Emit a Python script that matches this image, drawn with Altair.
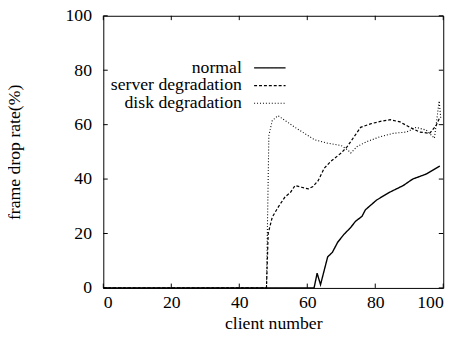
import altair as alt
import pandas as pd

series = ["normal", "server degradation", "disk degradation"]
tick_values = [0, 20, 40, 60, 80, 100]

normal_x = [0, 62, 62.9, 63.9, 66, 67.4, 68.9, 70.8, 72.7, 74.2, 76.1, 77.1, 80.4, 84.3, 88.2, 91, 94.9, 99]
normal_y = [0, 0, 5.4, 1.2, 11.4, 13.1, 16.7, 19.7, 22.1, 24.5, 26.3, 28.7, 32.3, 35.2, 37.6, 40, 41.8, 44.8]

server_x = [0, 48, 48.5, 49.7, 51.6, 53.5, 55, 56.4, 58.3, 60.3, 61.7, 63.2, 65, 67, 70, 71.8, 73.8, 75.7,
            78.6, 81.5, 84.4, 87.3, 90.2, 93, 96, 97.9, 99]
server_y = [0, 0, 20, 26, 30, 33.5, 35, 37.6, 37, 36.4, 37.3, 39.4, 44, 46.6, 49.6, 52, 55.6, 59,
            60.3, 61.2, 61.8, 61, 59, 57.3, 56.8, 59.7, 62.7]

disk_x = [0, 48, 48.7, 49.7, 51.4, 53.5, 56.4, 59.3, 62.2, 66, 70, 71.8, 72.8, 74.7, 77.6, 81.5, 85.3,
          89.2, 92, 95, 97.4, 98.8, 99.3]
disk_y = [0, 0, 56, 61.5, 63.3, 61.5, 59, 56.7, 54.4, 53.2, 52.3, 50.8, 49.6, 52, 53.8, 55.6, 56.8,
          57.3, 59, 58, 55, 68.7, 62]

rows = []
for name, xs, ys in [(series[0], normal_x, normal_y), (series[1], server_x, server_y), (series[2], disk_x, disk_y)]:
    for i, (a, b) in enumerate(zip(xs, ys)):
        rows.append({"client": a, "rate": b, "series": name, "order": i})
df = pd.DataFrame(rows)
tick_df = pd.DataFrame({"t": tick_values})

FONT = "Liberation Serif, Times New Roman, serif"
FS = 18
xscale = alt.Scale(domain=[0, 100], nice=False)
yscale = alt.Scale(domain=[0, 100], nice=False)
xaxis = alt.Axis(values=tick_values, title="client number", labelPadding=6, titlePadding=3)
yaxis = alt.Axis(values=tick_values, title="frame drop rate(%)", labelPadding=12,
                 titleX=-81, titleY=138.5)

lines = alt.Chart(df).mark_line(color="black").encode(
    x=alt.X("client:Q", scale=xscale, axis=xaxis),
    y=alt.Y("rate:Q", scale=yscale, axis=yaxis),
    strokeDash=alt.StrokeDash(
        "series:N",
        scale=alt.Scale(domain=series, range=[[1, 0], [3, 2], [1, 2]]),
        legend=alt.Legend(
            title=None, orient="none", legendX=160.5, legendY=44, padding=0,
            symbolType="M-3.2,0H3.2", symbolSize=100, symbolStrokeColor="black",
            symbolStrokeWidth=1, labelAlign="right",
            labelOffset={"expr": "-37.5"},
            rowPadding=0, labelFont=FONT, labelFontSize=FS,
            labelColor="black", labelLimit=300,
        ),
    ),
    strokeWidth=alt.StrokeWidth(
        "series:N", scale=alt.Scale(domain=series, range=[1.4, 1.1, 1.0]), legend=None
    ),
    order="order:Q",
)

def tick_layer(xenc, yenc, x2=None, y2=None):
    enc = {"x": xenc, "y": yenc}
    if x2 is not None:
        enc["x2"] = x2
    if y2 is not None:
        enc["y2"] = y2
    return alt.Chart(tick_df).mark_rule(color="black", strokeWidth=1).encode(**enc)

bottom = tick_layer(alt.X("t:Q", scale=xscale, axis=xaxis), alt.datum(0), y2=alt.datum(1.6))
top = tick_layer(alt.X("t:Q", scale=xscale, axis=xaxis), alt.datum(100), y2=alt.datum(98.4))
left = tick_layer(alt.datum(0), alt.Y("t:Q", scale=yscale, axis=yaxis), x2=alt.datum(1.3))
right = tick_layer(alt.datum(100), alt.Y("t:Q", scale=yscale, axis=yaxis), x2=alt.datum(98.7))

chart = alt.layer(lines, bottom, top, left, right).properties(
    width=346, height=277,
    autosize=alt.AutoSizeParams(type="none"),
    padding={"left": 97, "top": 5, "right": 14, "bottom": 46},
    background="white",
).configure_view(stroke="black", strokeWidth=1).configure_axis(
    ticks=False, domain=False, grid=False,
    labelFont=FONT, labelFontSize=FS, labelColor="black",
    titleFont=FONT, titleFontSize=FS, titleColor="black", titleFontWeight="normal",
)

chart.save("out.html", embed_options={"renderer": "svg", "actions": False})
